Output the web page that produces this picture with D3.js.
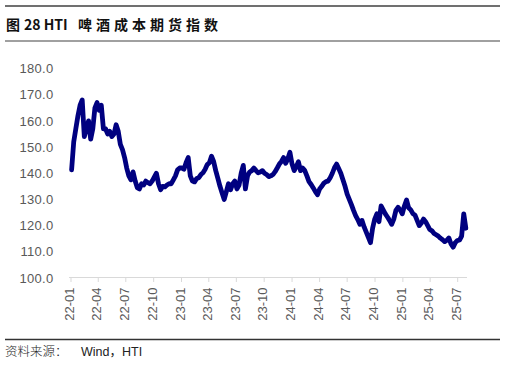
<!DOCTYPE html>
<html>
<head>
<meta charset="utf-8">
<script src="https://cdn.jsdelivr.net/npm/d3@7"></script>
<style>
  body { margin: 0; background: #fff; }
  svg { display: block; }
</style>
</head>
<body>
<div id="chart"></div>
<script>
const width = 506;
const height = 365;

// HTI beer cost futures index, weekly readings from 2022-01-03
const startDate = new Date(2022, 0, 3);
const weeklyValues = [
  141.3, 152, 157, 162, 166, 168, 154, 157, 160, 153, 157, 165, 167, 164, 166, 157, 157, 155,
  156, 154, 155, 158.5, 156, 151, 149, 146, 142, 139, 137.5, 140.5, 137, 134.5, 134, 136, 135.5, 137,
  136.4, 136, 137, 138.5, 140, 136, 133.7, 135, 134.8, 135.5, 136, 136, 137.5, 139, 141.3, 142,
  142, 141.5, 144, 146, 139, 137, 136.7, 138, 138.3, 139.5, 140.2, 141.5, 143.3, 144, 146.5, 144.5,
  141, 138, 135, 132.5, 130, 133, 136, 133.7, 136, 137, 134, 135.5, 140, 143, 134, 139,
  140.5, 141, 142, 141, 140.2, 140.5, 141, 140, 139.5, 138.7, 139, 139.5, 140.6, 142, 143.5, 144.5,
  146, 143.8, 145.5, 148, 143.5, 141, 142.5, 144.4, 141, 142, 141, 139, 136.8, 135.7, 134.4, 133,
  131.8, 134, 135, 136.2, 136.8, 137, 138.3, 140, 142.1, 143.5, 141.8, 140, 137.5, 135, 132, 130,
  128, 125.8, 123.8, 122.3, 120.5, 122, 119.5, 117.5, 115.5, 113.5, 119, 122.5, 124.5, 121.5, 127.5, 126,
  124.5, 123.3, 122, 120.5, 122.5, 125.8, 127, 126, 124.5, 127.5, 129.8, 126.8, 126, 124.6, 124, 122,
  120, 121, 122.5, 121.5, 120, 118.5, 118, 117, 116.5, 116, 115.2, 114.6, 113.9, 114.4, 115.3, 113,
  111.8, 113.5, 114.3, 114.5, 116, 124.5, 119
];

const yTicks = [100, 110, 120, 130, 140, 150, 160, 170, 180];
const xTickLabels = ["22-01", "22-04", "22-07", "22-10", "23-01", "23-04", "23-07", "23-10",
  "24-01", "24-04", "24-07", "24-10", "25-01", "25-04", "25-07"];

const title = "图28 HTI 啤酒成本期货指数";
const source = "资料来源：Wind，HTI";

const data = weeklyValues.map((v, i) => ({ date: d3.timeDay.offset(startDate, 7 * i), value: v }));
const xTicks = xTickLabels.map(s => d3.timeParse("%y-%m")(s));

const x = d3.scaleTime()
  .domain([xTicks[0], xTicks[xTicks.length - 1]])
  .range([71, 457.7]);

const y = d3.scaleLinear()
  .domain([100, 180])
  .range([278, 68.5]);

const svg = d3.select("#chart").append("svg")
  .attr("width", width)
  .attr("height", height);

// header / footer rules
svg.append("line").attr("x1", 5).attr("x2", 500).attr("y1", 6).attr("y2", 6)
  .attr("stroke", "#404040").attr("stroke-width", 1.4);
svg.append("line").attr("x1", 5).attr("x2", 500).attr("y1", 41).attr("y2", 41)
  .attr("stroke", "#808080").attr("stroke-width", 1.3);
svg.append("line").attr("x1", 5).attr("x2", 500).attr("y1", 339.5).attr("y2", 339.5)
  .attr("stroke", "#333").attr("stroke-width", 1.4);

// title
const t = svg.append("text")
  .attr("y", 30)
  .attr("font-family", "'Noto Sans CJK SC', sans-serif")
  .attr("font-weight", "bold")
  .attr("font-size", 14)
  .attr("fill", "#111");
const parts = title.split(" ");
t.append("tspan").attr("x", 6).text(parts[0].slice(0, 1));
t.append("tspan").attr("x", 24).text(parts[0].slice(1) + " " + parts[1]);
t.append("tspan").attr("x", 78).attr("letter-spacing", 4).text(parts[2]);

// source
const s = svg.append("text")
  .attr("y", 356)
  .attr("font-family", "'Noto Sans CJK SC', sans-serif")
  .attr("font-size", 12.5)
  .attr("fill", "#222");
s.append("tspan").attr("x", 5).attr("font-weight", 300).text(source.slice(0, 5));
s.append("tspan").attr("x", 81).attr("font-family", "'Liberation Sans', 'Noto Sans CJK SC', sans-serif")
  .text(source.slice(5));

// y axis labels (no axis line)
svg.append("g")
  .selectAll("text")
  .data(yTicks)
  .join("text")
  .attr("x", 53.5)
  .attr("y", d => y(d))
  .attr("dy", "0.36em")
  .attr("text-anchor", "end")
  .attr("font-family", "'Liberation Sans', Arial, sans-serif")
  .attr("font-size", 13)
  .attr("letter-spacing", 0.3)
  .attr("fill", "#595959")
  .text(d => d3.format(".1f")(d));

// x axis
const xAxis = svg.append("g").attr("transform", `translate(0, ${y(100) - 0.5})`);
xAxis.append("line")
  .attr("x1", 69).attr("x2", 467)
  .attr("stroke", "#d9d9d9").attr("stroke-width", 1);
xAxis.selectAll(".tick")
  .data(xTicks)
  .join("line")
  .attr("class", "tick")
  .attr("x1", d => x(d)).attr("x2", d => x(d))
  .attr("y1", 0).attr("y2", 4.5)
  .attr("stroke", "#d9d9d9");
xAxis.selectAll(".label")
  .data(xTicks)
  .join("text")
  .attr("class", "label")
  .attr("transform", d => `translate(${x(d) - 1.5}, 10) rotate(-90)`)
  .attr("text-anchor", "end")
  .attr("dy", "0.36em")
  .attr("font-family", "'Liberation Sans', Arial, sans-serif")
  .attr("font-size", 13)
  .attr("fill", "#595959")
  .text(d => d3.timeFormat("%y-%m")(d));

// the index line
const line = d3.line()
  .x(d => x(d.date))
  .y(d => y(d.value));

svg.append("path")
  .datum(data)
  .attr("fill", "none")
  .attr("stroke", "#000080")
  .attr("stroke-width", 4.8)
  .attr("stroke-linejoin", "round")
  .attr("stroke-linecap", "round")
  .attr("d", line);
</script>
</body>
</html>
